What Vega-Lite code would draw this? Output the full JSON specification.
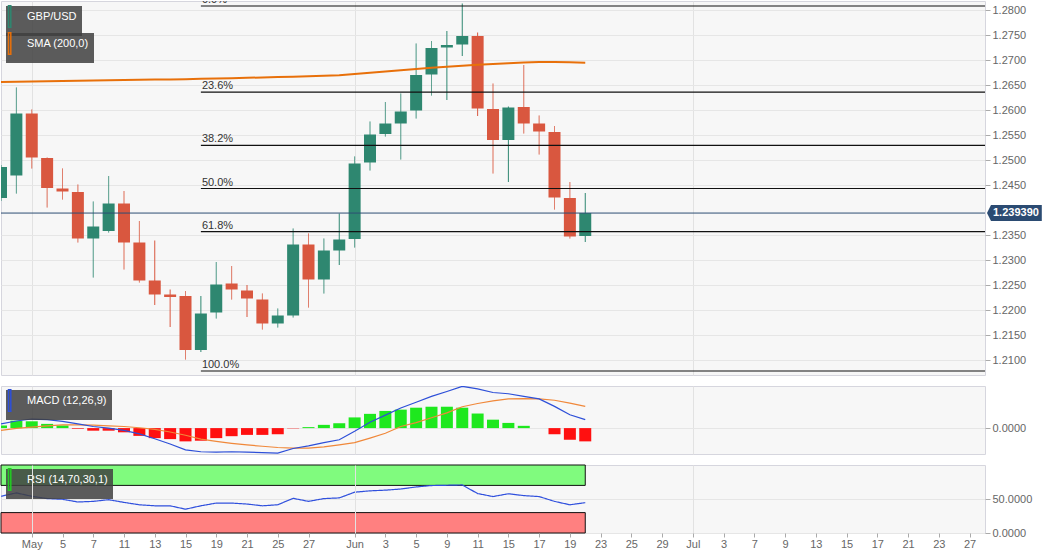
{
  "$schema": "https://vega.github.io/schema/vega-lite/v6.json",
  "description": "GBP/USD daily candles with SMA 200, Fibonacci retracement, MACD and RSI panels.",
  "padding": {"left": 0, "top": 0, "right": 0, "bottom": 0},
  "background": "#ffffff",
  "spacing": 9,
  "datasets": {
    "bars": [
      {"date": "2020-04-29", "open": 1.2424, "high": 1.2490, "low": 1.2418, "close": 1.2486, "sma": 1.26560, "macd": 0.0013, "signal": -0.0007, "hist": 0.0008, "rsi": 54},
      {"date": "2020-04-30", "open": 1.2469, "high": 1.2645, "low": 1.2433, "close": 1.2593, "sma": 1.26565, "macd": 0.0022, "signal": -0.0001, "hist": 0.0023, "rsi": 59},
      {"date": "2020-05-01", "open": 1.2593, "high": 1.2601, "low": 1.2483, "close": 1.2505, "sma": 1.26570, "macd": 0.0028, "signal": 0.0003, "hist": 0.0021, "rsi": 54},
      {"date": "2020-05-04", "open": 1.2504, "high": 1.2505, "low": 1.2405, "close": 1.2444, "sma": 1.26575, "macd": 0.0026, "signal": 0.0007, "hist": 0.0013, "rsi": 50.6},
      {"date": "2020-05-05", "open": 1.2443, "high": 1.2483, "low": 1.2421, "close": 1.2437, "sma": 1.26580, "macd": 0.0021, "signal": 0.0010, "hist": 0.0008, "rsi": 49.6},
      {"date": "2020-05-06", "open": 1.2436, "high": 1.2451, "low": 1.2335, "close": 1.2343, "sma": 1.26585, "macd": 0.0013, "signal": 0.0010, "hist": -0.0002, "rsi": 45.6},
      {"date": "2020-05-07", "open": 1.2343, "high": 1.2417, "low": 1.2265, "close": 1.2367, "sma": 1.26590, "macd": 0.0005, "signal": 0.0009, "hist": -0.0008, "rsi": 46.5},
      {"date": "2020-05-08", "open": 1.2358, "high": 1.2468, "low": 1.2355, "close": 1.2413, "sma": 1.26595, "macd": 0.0000, "signal": 0.0007, "hist": -0.0008, "rsi": 49},
      {"date": "2020-05-11", "open": 1.2413, "high": 1.2438, "low": 1.2281, "close": 1.2335, "sma": 1.26600, "macd": -0.0007, "signal": 0.0005, "hist": -0.0013, "rsi": 45},
      {"date": "2020-05-12", "open": 1.2335, "high": 1.2378, "low": 1.2255, "close": 1.2259, "sma": 1.26604, "macd": -0.0018, "signal": 0.0001, "hist": -0.0024, "rsi": 41.5},
      {"date": "2020-05-13", "open": 1.2259, "high": 1.2339, "low": 1.2210, "close": 1.2231, "sma": 1.26608, "macd": -0.0033, "signal": -0.0004, "hist": -0.0031, "rsi": 40},
      {"date": "2020-05-14", "open": 1.2231, "high": 1.2241, "low": 1.2166, "close": 1.2226, "sma": 1.26612, "macd": -0.0049, "signal": -0.0012, "hist": -0.0034, "rsi": 40},
      {"date": "2020-05-15", "open": 1.2228, "high": 1.2238, "low": 1.2101, "close": 1.2120, "sma": 1.26617, "macd": -0.0067, "signal": -0.0022, "hist": -0.0041, "rsi": 35},
      {"date": "2020-05-18", "open": 1.2120, "high": 1.2228, "low": 1.2116, "close": 1.2193, "sma": 1.26624, "macd": -0.0073, "signal": -0.0034, "hist": -0.0039, "rsi": 40},
      {"date": "2020-05-19", "open": 1.2195, "high": 1.2296, "low": 1.2183, "close": 1.2251, "sma": 1.26630, "macd": -0.0074, "signal": -0.0041, "hist": -0.0031, "rsi": 44},
      {"date": "2020-05-20", "open": 1.2253, "high": 1.2288, "low": 1.2221, "close": 1.2241, "sma": 1.26637, "macd": -0.0073, "signal": -0.0047, "hist": -0.0025, "rsi": 44},
      {"date": "2020-05-21", "open": 1.2239, "high": 1.2250, "low": 1.2186, "close": 1.2223, "sma": 1.26644, "macd": -0.0074, "signal": -0.0052, "hist": -0.0021, "rsi": 42.6},
      {"date": "2020-05-22", "open": 1.2221, "high": 1.2233, "low": 1.2161, "close": 1.2173, "sma": 1.26651, "macd": -0.0076, "signal": -0.0056, "hist": -0.0021, "rsi": 40},
      {"date": "2020-05-25", "open": 1.2173, "high": 1.2203, "low": 1.2165, "close": 1.2189, "sma": 1.26658, "macd": -0.0077, "signal": -0.0060, "hist": -0.0019, "rsi": 41.5},
      {"date": "2020-05-26", "open": 1.2189, "high": 1.2363, "low": 1.2185, "close": 1.2331, "sma": 1.26666, "macd": -0.0063, "signal": -0.0062, "hist": -0.0001, "rsi": 51},
      {"date": "2020-05-27", "open": 1.2331, "high": 1.2353, "low": 1.2205, "close": 1.2261, "sma": 1.26674, "macd": -0.0055, "signal": -0.0062, "hist": 0.0003, "rsi": 46.5},
      {"date": "2020-05-28", "open": 1.2261, "high": 1.2343, "low": 1.2233, "close": 1.2319, "sma": 1.26683, "macd": -0.0045, "signal": -0.0058, "hist": 0.0010, "rsi": 50.6},
      {"date": "2020-05-29", "open": 1.2319, "high": 1.2393, "low": 1.2290, "close": 1.2341, "sma": 1.26693, "macd": -0.0036, "signal": -0.0052, "hist": 0.0015, "rsi": 51.6},
      {"date": "2020-06-01", "open": 1.2342, "high": 1.2507, "low": 1.2325, "close": 1.2493, "sma": 1.26720, "macd": -0.0010, "signal": -0.0045, "hist": 0.0033, "rsi": 60},
      {"date": "2020-06-02", "open": 1.2495, "high": 1.2577, "low": 1.2479, "close": 1.2551, "sma": 1.26745, "macd": 0.0018, "signal": -0.0031, "hist": 0.0044, "rsi": 62},
      {"date": "2020-06-03", "open": 1.2552, "high": 1.2616, "low": 1.2547, "close": 1.2573, "sma": 1.26770, "macd": 0.0040, "signal": -0.0016, "hist": 0.0053, "rsi": 63},
      {"date": "2020-06-04", "open": 1.2573, "high": 1.2633, "low": 1.2501, "close": 1.2597, "sma": 1.26795, "macd": 0.0062, "signal": 0.0005, "hist": 0.0057, "rsi": 64.7},
      {"date": "2020-06-05", "open": 1.2599, "high": 1.2733, "low": 1.2583, "close": 1.2670, "sma": 1.26820, "macd": 0.0080, "signal": 0.0017, "hist": 0.0063, "rsi": 67.7},
      {"date": "2020-06-08", "open": 1.2671, "high": 1.2738, "low": 1.2629, "close": 1.2724, "sma": 1.26845, "macd": 0.0098, "signal": 0.0032, "hist": 0.0066, "rsi": 69.8},
      {"date": "2020-06-09", "open": 1.2725, "high": 1.2758, "low": 1.2620, "close": 1.2730, "sma": 1.26865, "macd": 0.0113, "signal": 0.0047, "hist": 0.0066, "rsi": 70.2},
      {"date": "2020-06-10", "open": 1.2731, "high": 1.2813, "low": 1.2708, "close": 1.2748, "sma": 1.26885, "macd": 0.0129, "signal": 0.0066, "hist": 0.0063, "rsi": 70.7},
      {"date": "2020-06-11", "open": 1.2748, "high": 1.2755, "low": 1.2588, "close": 1.2603, "sma": 1.26905, "macd": 0.0121, "signal": 0.0076, "hist": 0.0045, "rsi": 58},
      {"date": "2020-06-12", "open": 1.2602, "high": 1.2653, "low": 1.2473, "close": 1.2540, "sma": 1.26920, "macd": 0.0110, "signal": 0.0084, "hist": 0.0026, "rsi": 53.6},
      {"date": "2020-06-15", "open": 1.2540, "high": 1.2607, "low": 1.2456, "close": 1.2605, "sma": 1.26935, "macd": 0.0106, "signal": 0.0090, "hist": 0.0016, "rsi": 57.7},
      {"date": "2020-06-16", "open": 1.2606, "high": 1.2690, "low": 1.2553, "close": 1.2573, "sma": 1.26950, "macd": 0.0098, "signal": 0.0091, "hist": 0.0007, "rsi": 55},
      {"date": "2020-06-17", "open": 1.2573, "high": 1.2589, "low": 1.2511, "close": 1.2557, "sma": 1.26960, "macd": 0.0090, "signal": 0.0090, "hist": 0.0000, "rsi": 53.6},
      {"date": "2020-06-18", "open": 1.2556, "high": 1.2568, "low": 1.2401, "close": 1.2425, "sma": 1.26960, "macd": 0.0067, "signal": 0.0086, "hist": -0.0019, "rsi": 46.5},
      {"date": "2020-06-19", "open": 1.2424, "high": 1.2456, "low": 1.2343, "close": 1.2347, "sma": 1.26955, "macd": 0.0041, "signal": 0.0077, "hist": -0.0036, "rsi": 41.5},
      {"date": "2020-06-22", "open": 1.2348, "high": 1.2434, "low": 1.2336, "close": 1.23939, "sma": 1.26946, "macd": 0.0026, "signal": 0.0067, "hist": -0.0041, "rsi": 44.6}
    ],
    "fib": [
      {"level": "0.0%", "price": 1.2808, "start": "2020-05-18", "end": "2020-07-28"},
      {"level": "23.6%", "price": 1.26357, "start": "2020-05-18", "end": "2020-07-28"},
      {"level": "38.2%", "price": 1.25291, "start": "2020-05-18", "end": "2020-07-28"},
      {"level": "50.0%", "price": 1.2443, "start": "2020-05-18", "end": "2020-07-28"},
      {"level": "61.8%", "price": 1.23569, "start": "2020-05-18", "end": "2020-07-28"},
      {"level": "100.0%", "price": 1.2078, "start": "2020-05-18", "end": "2020-07-28"}
    ],
    "last": [
      {"price": 1.23939, "label": "1.239390", "start": "2020-04-29", "end": "2020-07-28"}
    ],
    "bands": [
      {"zone": "overbought", "lo": 70, "hi": 100, "start": "2020-04-29", "end": "2020-06-22"},
      {"zone": "oversold", "lo": 0, "hi": 30, "start": "2020-04-29", "end": "2020-06-22"}
    ]
  },
  "resolve": {
    "scale": {"stroke": "independent", "strokeDash": "independent"},
    "legend": {"stroke": "independent", "strokeDash": "independent"}
  },
  "vconcat": [
    {
      "width": 984,
      "height": 374,
      "data": {"name": "bars"},
      "encoding": {
        "x": {
          "field": "date",
          "type": "ordinal",
          "scale": {
            "type": "point",
            "padding": 0,
            "domain": ["2020-04-29","2020-04-30","2020-05-01","2020-05-04","2020-05-05","2020-05-06","2020-05-07","2020-05-08","2020-05-11","2020-05-12","2020-05-13","2020-05-14","2020-05-15","2020-05-18","2020-05-19","2020-05-20","2020-05-21","2020-05-22","2020-05-25","2020-05-26","2020-05-27","2020-05-28","2020-05-29","2020-06-01","2020-06-02","2020-06-03","2020-06-04","2020-06-05","2020-06-08","2020-06-09","2020-06-10","2020-06-11","2020-06-12","2020-06-15","2020-06-16","2020-06-17","2020-06-18","2020-06-19","2020-06-22","2020-06-23","2020-06-24","2020-06-25","2020-06-26","2020-06-29","2020-06-30","2020-07-01","2020-07-02","2020-07-03","2020-07-06","2020-07-07","2020-07-08","2020-07-09","2020-07-10","2020-07-13","2020-07-14","2020-07-15","2020-07-16","2020-07-17","2020-07-20","2020-07-21","2020-07-22","2020-07-23","2020-07-24","2020-07-27","2020-07-28"]
          },
          "axis": {"title": null, "labels": false, "ticks": false, "domain": false, "grid": true, "gridColor": "#e2e2e2", "values": ["2020-05-01", "2020-06-01", "2020-07-01"]}
        },
        "y": {
          "field": "low",
          "type": "quantitative",
          "scale": {"domain": [1.2070, 1.2818], "zero": false, "nice": false},
          "axis": {
            "title": null,
            "orient": "right",
            "format": ".4f",
            "grid": true,
            "labelOverlap": false,
            "labelBound": false,
            "labelSeparation": 0,
            "values": [1.21, 1.215, 1.22, 1.225, 1.23, 1.235, 1.245, 1.25, 1.255, 1.26, 1.265, 1.27, 1.275, 1.28]
          }
        }
      },
      "layer": [
        {
          "mark": {"type": "rule", "clip": true, "strokeWidth": 1},
          "encoding": {
            "y2": {"field": "high"},
            "color": {"condition": {"test": "datum.close < datum.open", "value": "#d9573f"}, "value": "#2e8770"},
            "strokeDash": {
              "datum": "GBP/USD",
              "type": "nominal",
              "scale": {"range": [[1, 0]]},
              "legend": {
                "title": null,
                "orient": "none",
                "legendX": 5,
                "legendY": 5,
                "symbolStrokeWidth": 1.5,
                "labelExpr": "datum.label + '\u00a0\u00a0\u00a0\u00a0'"
              }
            }
          }
        },
        {
          "mark": {"type": "bar", "width": 12, "clip": true},
          "encoding": {
            "y": {"field": "open", "type": "quantitative"},
            "y2": {"field": "close"},
            "color": {"condition": {"test": "datum.close < datum.open", "value": "#d9573f"}, "value": "#2e8770"}
          }
        },
        {
          "data": {"name": "fib"},
          "mark": {"type": "rule", "color": "#111111", "strokeWidth": 1.2, "clip": true},
          "encoding": {
            "x": {"field": "start", "type": "ordinal"},
            "x2": {"field": "end"},
            "y": {"field": "price", "type": "quantitative"}
          }
        },
        {
          "data": {"name": "fib"},
          "mark": {"type": "text", "align": "left", "baseline": "alphabetic", "dx": 1, "dy": -3, "fontSize": 11, "color": "#333333", "clip": true},
          "encoding": {
            "x": {"field": "start", "type": "ordinal"},
            "y": {"field": "price", "type": "quantitative"},
            "text": {"field": "level"}
          }
        },
        {
          "data": {"name": "last"},
          "mark": {"type": "rule", "color": "#2d4e74", "strokeWidth": 1},
          "encoding": {
            "x": {"field": "start", "type": "ordinal"},
            "x2": {"field": "end"},
            "y": {"field": "price", "type": "quantitative"}
          }
        },
        {
          "mark": {"type": "line", "strokeWidth": 2, "clip": true},
          "encoding": {
            "y": {"field": "sma", "type": "quantitative"},
            "stroke": {
              "datum": "SMA (200,0)",
              "type": "nominal",
              "scale": {"range": ["#e8700a"]},
              "legend": {
                "title": null,
                "orient": "none",
                "legendX": 5,
                "legendY": 32,
                "symbolStrokeWidth": 1.5,
                "labelExpr": "datum.label + '\u00a0\u00a0\u00a0\u00a0'"
              }
            }
          }
        },
        {
          "data": {"name": "last"},
          "mark": {"type": "point", "shape": "M0.25,0L0.75,-1L7.1,-1L7.1,1L0.75,1Z", "size": 256, "filled": true, "color": "#2b4b72", "opacity": 1},
          "encoding": {
            "x": {"field": "end", "type": "ordinal"},
            "y": {"field": "price", "type": "quantitative"}
          }
        },
        {
          "data": {"name": "last"},
          "mark": {"type": "text", "align": "left", "baseline": "middle", "dx": 8, "fontSize": 11, "fontWeight": "bold", "color": "#ffffff"},
          "encoding": {
            "x": {"field": "end", "type": "ordinal"},
            "y": {"field": "price", "type": "quantitative"},
            "text": {"field": "label"}
          }
        }
      ]
    },
    {
      "width": 984,
      "height": 68,
      "data": {"name": "bars"},
      "encoding": {
        "x": {
          "field": "date",
          "type": "ordinal",
          "scale": {
            "type": "point",
            "padding": 0,
            "domain": ["2020-04-29","2020-04-30","2020-05-01","2020-05-04","2020-05-05","2020-05-06","2020-05-07","2020-05-08","2020-05-11","2020-05-12","2020-05-13","2020-05-14","2020-05-15","2020-05-18","2020-05-19","2020-05-20","2020-05-21","2020-05-22","2020-05-25","2020-05-26","2020-05-27","2020-05-28","2020-05-29","2020-06-01","2020-06-02","2020-06-03","2020-06-04","2020-06-05","2020-06-08","2020-06-09","2020-06-10","2020-06-11","2020-06-12","2020-06-15","2020-06-16","2020-06-17","2020-06-18","2020-06-19","2020-06-22","2020-06-23","2020-06-24","2020-06-25","2020-06-26","2020-06-29","2020-06-30","2020-07-01","2020-07-02","2020-07-03","2020-07-06","2020-07-07","2020-07-08","2020-07-09","2020-07-10","2020-07-13","2020-07-14","2020-07-15","2020-07-16","2020-07-17","2020-07-20","2020-07-21","2020-07-22","2020-07-23","2020-07-24","2020-07-27","2020-07-28"]
          },
          "axis": {"title": null, "labels": false, "ticks": false, "domain": false, "grid": true, "gridColor": "#e2e2e2", "values": ["2020-05-01", "2020-06-01", "2020-07-01"]}
        }
      },
      "layer": [
        {
          "mark": {"type": "bar", "width": 12, "clip": true},
          "encoding": {
            "y": {
              "field": "hist",
              "type": "quantitative",
              "scale": {"domain": [-0.008, 0.013], "zero": false, "nice": false},
              "axis": {"title": null, "orient": "right", "format": ".4f", "grid": true, "values": [0]}
            },
            "y2": {"datum": 0},
            "color": {"condition": {"test": "datum.hist >= 0", "value": "#1ee81e"}, "value": "#ff1010"}
          }
        },
        {
          "mark": {"type": "line", "strokeWidth": 1.2, "color": "#f0883a", "clip": true},
          "encoding": {
            "y": {"field": "signal", "type": "quantitative", "scale": {"domain": [-0.008, 0.013], "zero": false, "nice": false}}
          }
        },
        {
          "mark": {"type": "line", "strokeWidth": 1.2, "clip": true},
          "encoding": {
            "y": {"field": "macd", "type": "quantitative", "scale": {"domain": [-0.008, 0.013], "zero": false, "nice": false}},
            "stroke": {
              "datum": "MACD (12,26,9)",
              "type": "nominal",
              "scale": {"range": ["#2d4fd8"]},
              "legend": {
                "title": null,
                "orient": "none",
                "legendX": 5,
                "legendY": 4,
                "symbolStrokeWidth": 1.5,
                "labelExpr": "datum.label + '\u00a0\u00a0\u00a0\u00a0'"
              }
            }
          }
        }
      ]
    },
    {
      "width": 984,
      "height": 68,
      "data": {"name": "bars"},
      "encoding": {
        "x": {
          "field": "date",
          "type": "ordinal",
          "scale": {
            "type": "point",
            "padding": 0,
            "domain": ["2020-04-29","2020-04-30","2020-05-01","2020-05-04","2020-05-05","2020-05-06","2020-05-07","2020-05-08","2020-05-11","2020-05-12","2020-05-13","2020-05-14","2020-05-15","2020-05-18","2020-05-19","2020-05-20","2020-05-21","2020-05-22","2020-05-25","2020-05-26","2020-05-27","2020-05-28","2020-05-29","2020-06-01","2020-06-02","2020-06-03","2020-06-04","2020-06-05","2020-06-08","2020-06-09","2020-06-10","2020-06-11","2020-06-12","2020-06-15","2020-06-16","2020-06-17","2020-06-18","2020-06-19","2020-06-22","2020-06-23","2020-06-24","2020-06-25","2020-06-26","2020-06-29","2020-06-30","2020-07-01","2020-07-02","2020-07-03","2020-07-06","2020-07-07","2020-07-08","2020-07-09","2020-07-10","2020-07-13","2020-07-14","2020-07-15","2020-07-16","2020-07-17","2020-07-20","2020-07-21","2020-07-22","2020-07-23","2020-07-24","2020-07-27","2020-07-28"]
          },
          "axis": {
            "title": null,
            "orient": "bottom",
            "labelAngle": 0,
            "labelOverlap": false,
            "labelPadding": 1,
            "tickSize": 4,
            "domain": false,
            "grid": true,
            "gridColor": {"condition": {"test": "slice(datum.value, 8) == '01'", "value": "#e2e2e2"}, "value": "transparent"},
            "values": ["2020-05-01","2020-05-05","2020-05-07","2020-05-11","2020-05-13","2020-05-15","2020-05-19","2020-05-21","2020-05-25","2020-05-27","2020-06-01","2020-06-03","2020-06-05","2020-06-09","2020-06-11","2020-06-15","2020-06-17","2020-06-19","2020-06-23","2020-06-25","2020-06-29","2020-07-01","2020-07-03","2020-07-07","2020-07-09","2020-07-13","2020-07-15","2020-07-17","2020-07-21","2020-07-23","2020-07-27"],
            "labelExpr": "slice(datum.value, 8) == '01' ? (slice(datum.value, 5, 7) == '05' ? 'May' : slice(datum.value, 5, 7) == '06' ? 'Jun' : 'Jul') : '' + toNumber(slice(datum.value, 8))"
          }
        }
      },
      "layer": [
        {
          "data": {"name": "bands"},
          "mark": {"type": "rect", "stroke": "#111111", "strokeWidth": 1},
          "encoding": {
            "x": {"field": "start", "type": "ordinal"},
            "x2": {"field": "end"},
            "y": {
              "field": "lo",
              "type": "quantitative",
              "scale": {"domain": [0, 100], "zero": false, "nice": false},
              "axis": {"title": null, "orient": "right", "format": ".4f", "grid": true, "labelOverlap": false, "values": [0, 50]}
            },
            "y2": {"field": "hi"},
            "fill": {"condition": {"test": "datum.zone == 'overbought'", "value": "#80fb7e"}, "value": "#ff8080"}
          }
        },
        {
          "mark": {"type": "line", "strokeWidth": 1.2, "clip": true},
          "encoding": {
            "y": {"field": "rsi", "type": "quantitative", "scale": {"domain": [0, 100], "zero": false, "nice": false}},
            "color": {"condition": {"test": "true", "value": "#3050dd"}, "value": "#22cc22"},
            "strokeDash": {
              "datum": "RSI (14,70,30,1)",
              "type": "nominal",
              "scale": {"range": [[1, 0]]},
              "legend": {
                "title": null,
                "orient": "none",
                "legendX": 5,
                "legendY": 4,
                "symbolStrokeWidth": 1.5,
                "labelExpr": "datum.label + '\u00a0\u00a0\u00a0\u00a0'"
              }
            }
          }
        }
      ]
    }
  ],
  "config": {
    "font": "Liberation Sans",
    "view": {"stroke": "#d6d6de", "fill": "#f7f7f7"},
    "axis": {
      "labelFont": "Liberation Sans",
      "labelFontSize": 11,
      "labelColor": "#666666",
      "labelOverlap": false,
      "tickColor": "#aaaaaa",
      "tickSize": 5,
      "domain": false,
      "gridColor": "#e6e6e6",
      "title": null
    },
    "text": {"font": "Liberation Sans"},
    "legend": {
      "fillColor": "rgba(64,64,64,0.85)",
      "padding": 5,
      "cornerRadius": 0,
      "labelColor": "#ffffff",
      "labelFont": "Liberation Sans",
      "labelFontSize": 11,
      "labelOffset": 5,
      "symbolType": "M-2.67,-3.6L-1.9,-3.6L-1.9,3.6L-2.67,3.6Z",
      "symbolSize": 36
    }
  }
}
